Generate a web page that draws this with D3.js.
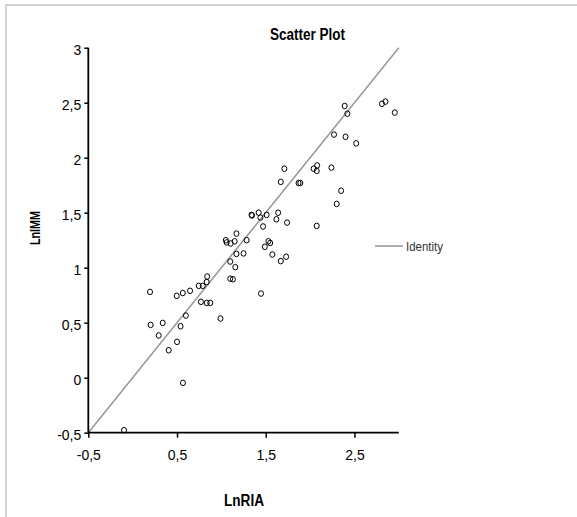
<!DOCTYPE html>
<html>
<head>
<meta charset="utf-8">
<script src="https://cdn.jsdelivr.net/npm/d3@7"></script>
<style>
  html, body { margin: 0; padding: 0; background: #fff; }
  svg { display: block; }
  text { font-family: "Liberation Sans", Arial, sans-serif; }
</style>
</head>
<body>
<svg id="chart" width="577" height="517"></svg>
<script>
// LnRIA (x) against LnIMM (y), one entry per observation
const lnRIA = [
  2.39, 2.42, 2.27, 2.40, 2.52, 2.81, 2.85, 2.955,
  1.71, 1.67, 1.87, 1.89, 2.04, 2.08, 2.075, 2.24, 2.35, 2.30, 2.075,
  1.34, 1.345, 1.42, 1.44, 1.51, 1.64, 1.62, 1.74, 1.47,
  1.17, 1.05, 1.06, 1.105, 1.15, 1.285, 1.53, 1.55, 1.49,
  1.17, 1.25, 1.575, 1.73, 1.67, 1.10, 1.157,
  0.84, 0.835, 0.745, 0.79, 1.10, 1.13,
  0.196, 0.497, 0.565, 0.647, 1.447,
  0.77, 0.835, 0.875, 0.60, 0.203, 0.339, 0.54, 0.99,
  0.294, 0.50, 0.406, 0.567, -0.097
];
const lnIMM = [
  2.47, 2.40, 2.21, 2.19, 2.13, 2.49, 2.51, 2.41,
  1.90, 1.78, 1.77, 1.77, 1.90, 1.93, 1.88, 1.91, 1.70, 1.58, 1.38,
  1.48, 1.475, 1.50, 1.456, 1.48, 1.50, 1.44, 1.41, 1.375,
  1.31, 1.25, 1.23, 1.22, 1.24, 1.25, 1.24, 1.225, 1.19,
  1.125, 1.13, 1.12, 1.10, 1.06, 1.056, 1.005,
  0.92, 0.87, 0.835, 0.835, 0.90, 0.895,
  0.78, 0.744, 0.77, 0.79, 0.765,
  0.69, 0.68, 0.68, 0.565, 0.48, 0.498, 0.468, 0.538,
  0.384, 0.326, 0.25, -0.047, -0.477
];

// Identity reference line end points (y = x)
const identityEnds = [-0.5, 3];

const xTicks = [-0.5, 0.5, 1.5, 2.5];
const yTicks = [-0.5, 0, 0.5, 1, 1.5, 2, 2.5, 3];

const svg = d3.select("#chart");

const x = d3.scaleLinear().domain([-0.5, 3]).range([88.3, 398.8]);
const y = d3.scaleLinear().domain([-0.5, 3]).range([432.7, 47.7]);

const fmt = v => String(v).replace(".", ",");

// outer frame (left and top edges)
svg.append("path")
  .attr("d", "M6,517 L6,5 L577,5")
  .attr("fill", "none")
  .attr("stroke", "#c4c4c4")
  .attr("stroke-width", 1.5);

// title
svg.append("text")
  .attr("x", 307.5).attr("y", 40)
  .attr("text-anchor", "middle")
  .attr("font-size", 16).attr("font-weight", "bold")
  .attr("textLength", 75).attr("lengthAdjust", "spacingAndGlyphs")
  .text("Scatter Plot");

// identity line
svg.append("line")
  .attr("x1", x(identityEnds[0])).attr("y1", y(identityEnds[0]))
  .attr("x2", x(identityEnds[1])).attr("y2", y(identityEnds[1]))
  .attr("stroke", "#9a9a9a").attr("stroke-width", 1.6);

// y axis
const yAxis = svg.append("g")
  .attr("transform", `translate(${x(-0.5)},0)`)
  .call(d3.axisLeft(y).tickValues(yTicks).tickSize(4).tickSizeOuter(0).tickPadding(3).tickFormat(fmt));

// x axis
const xAxis = svg.append("g")
  .attr("transform", `translate(0,${y(-0.5)})`)
  .call(d3.axisBottom(x).tickValues(xTicks).tickSize(5).tickSizeOuter(0).tickPadding(12).tickFormat(fmt));

[yAxis, xAxis].forEach(g => {
  g.select(".domain").attr("stroke", "#000").attr("stroke-width", 1.8);
  g.selectAll(".tick line").attr("stroke", "#000").attr("stroke-width", 1.5);
  g.selectAll(".tick text")
    .attr("fill", "#000")
    .attr("font-size", 14)
    .attr("font-family", "\"Liberation Sans\", Arial, sans-serif");
});
yAxis.selectAll(".tick text").attr("dy", "0.45em");
// keep the x domain line running to x = 3
xAxis.select(".domain").attr("d", `M${x(-0.5)},0H${x(3)}`);
yAxis.select(".domain").attr("d", `M0,${y(-0.5)}V${y(3)}`);

// points
svg.append("g")
  .selectAll("ellipse")
  .data(lnRIA.map((v, i) => [v, lnIMM[i]]))
  .join("ellipse")
  .attr("cx", d => x(d[0]))
  .attr("cy", d => y(d[1]))
  .attr("rx", 2.5).attr("ry", 2.8)
  .attr("fill", "none")
  .attr("stroke", "#000")
  .attr("stroke-width", 1);

// axis titles
svg.append("text")
  .attr("x", 244).attr("y", 506)
  .attr("text-anchor", "middle")
  .attr("font-size", 16).attr("font-weight", "bold")
  .attr("textLength", 40).attr("lengthAdjust", "spacingAndGlyphs")
  .text("LnRIA");

svg.append("text")
  .attr("transform", "translate(40,228) rotate(-90)")
  .attr("text-anchor", "middle")
  .attr("font-size", 15).attr("font-weight", "bold")
  .attr("textLength", 34).attr("lengthAdjust", "spacingAndGlyphs")
  .text("LnIMM");

// legend
const legend = svg.append("g").attr("transform", "translate(375,246)");
legend.append("line")
  .attr("x1", 0).attr("x2", 28).attr("y1", 0).attr("y2", 0)
  .attr("stroke", "#9a9a9a").attr("stroke-width", 1.6);
legend.append("text")
  .attr("x", 31).attr("y", 5)
  .attr("font-size", 13)
  .attr("fill", "#333")
  .attr("textLength", 37).attr("lengthAdjust", "spacingAndGlyphs")
  .text("Identity");
</script>
</body>
</html>
